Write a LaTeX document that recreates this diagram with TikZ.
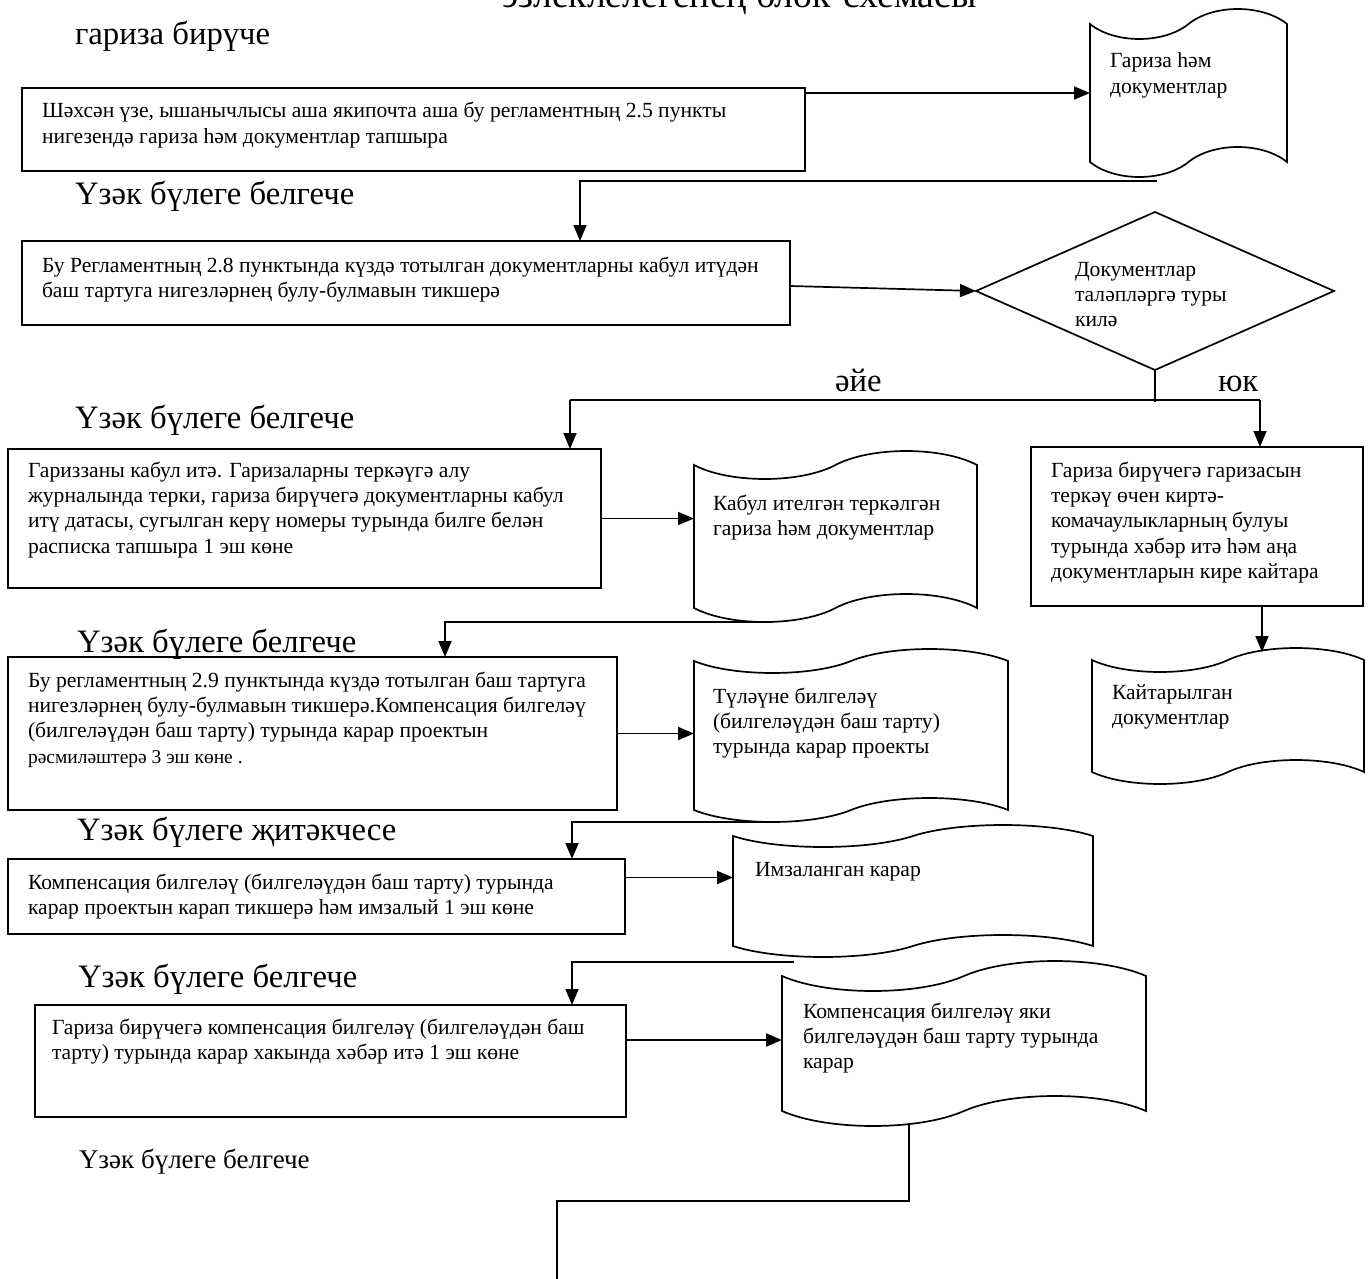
\documentclass[tikz,border=0pt]{standalone}
\usepackage{fontspec}
\setmainfont{Liberation Serif}
\usetikzlibrary{arrows.meta,shapes.geometric,calc}

% #1 name, #2 L, #3 R, #4 T, #5 B, #6 amplitude
\newcommand\tapedoc[6]{%
  \node[docarea, minimum width={(#3-#2)*1pt}, minimum height={(#5-#4)*1pt}] (#1) at ({0.5*(#2+#3)},{0.5*(#4+#5)}) {};
  \draw[docline] (#2,#4)
    .. controls ({#2+0.125*(#3-#2)},{#4+1.333*#6}) and ({#2+0.375*(#3-#2)},{#4+1.333*#6}) .. ({0.5*(#2+#3)},#4)
    .. controls ({#2+0.625*(#3-#2)},{#4-1.333*#6}) and ({#2+0.875*(#3-#2)},{#4-1.333*#6}) .. (#3,#4)
    -- (#3,#5)
    .. controls ({#2+0.875*(#3-#2)},{#5-1.333*#6}) and ({#2+0.625*(#3-#2)},{#5-1.333*#6}) .. ({0.5*(#2+#3)},#5)
    .. controls ({#2+0.375*(#3-#2)},{#5+1.333*#6}) and ({#2+0.125*(#3-#2)},{#5+1.333*#6}) .. (#2,#5)
    -- cycle;}
% #1 name, #2 L, #3 T, #4 R, #5 B
\newcommand\procbox[5]{%
  \node[box, minimum width={(#4-#2)*1pt}, minimum height={(#5-#3)*1pt}] (#1) at ({0.5*(#2+#4)},{0.5*(#3+#5)}) {};}

\tikzset{
  box/.style={draw, line width=1.7pt, inner sep=0pt, outer sep=0pt, rectangle},
  docarea/.style={inner sep=0pt, outer sep=0pt, rectangle},
  docline/.style={line width=1.7pt},
  % anchor = baseline of the LAST line
  txt/.style={inner sep=0pt, outer sep=0pt, align=left, anchor=base west, font=\fontsize{21.6}{25.4}\selectfont},
  head/.style={inner sep=0pt, outer sep=0pt, anchor=base west, font=\fontsize{32.7}{36}\selectfont},
  con/.style={line width=1.7pt},
  arr/.style={con, -{Triangle[length=16pt,width=13pt]}},
}

\begin{document}
\begin{tikzpicture}[x=1pt,y=-1pt]
\useasboundingbox (0,0) rectangle (1369,1279);
\fill[white] (0,0) rectangle (1369,1279);

% title (top cut off by the page edge, as in the reference)
\node[anchor=base west, inner sep=0pt, font=\fontsize{37.7}{42}\selectfont] (title) at (502,8) {эзлеклелегенең блок-схемасы};

% headings
\node[head] (h0) at (75,44.5) {гариза бирүче};
\node[head] (h1) at (75,204.5) {Үзәк бүлеге белгече};
\node[head] (h2) at (75,428.5) {Үзәк бүлеге белгече};
\node[head] (h3) at (77,652) {Үзәк бүлеге белгече};
\node[head] (h4) at (77,840) {Үзәк бүлеге җитәкчесе};
\node[head] (h5) at (78,987) {Үзәк бүлеге белгече};
\node[head, font=\fontsize{27}{30}\selectfont] (h6) at (79,1168) {Үзәк бүлеге белгече};

% process boxes
\procbox{a}{22}{88}{805}{171}
\procbox{b}{22}{241}{790}{325}
\procbox{c}{8}{449}{601}{588}
\procbox{e}{1031}{447}{1363}{606}
\procbox{f}{8}{657}{617}{810}
\procbox{g}{8}{859}{625}{934}
\procbox{h}{35}{1005}{626}{1117}

\node[txt] (at) at (42,143.4) {Шәхсән үзе, ышанычлысы аша якипочта аша бу регламентның 2.5 пункты\\нигезендә гариза һәм документлар тапшыра};
\node[txt] (bt) at (42,297.4) {Бу Регламентның 2.8 пунктында күздә тотылган документларны кабул итүдән\\баш тартуга нигезләрнең булу-булмавын тикшерә};
\node[txt] (ct) at (28,553.2) {Гариззаны кабул итә. Гаризаларны теркәүгә алу\\журналында терки, гариза бирүчегә документларны кабул\\итү датасы, сугылган керү номеры турында билге белән\\расписка тапшыра 1 эш көне};
\node[txt] (et) at (1051,578.6) {Гариза бирүчегә гаризасын\\теркәү өчен киртә-\\комачаулыкларның булуы\\турында хәбәр итә һәм аңа\\документларын кире кайтара};
\node[txt] (ft) at (28,763.2) {Бу регламентның 2.9 пунктында күздә тотылган баш тартуга\\нигезләрнең булу-булмавын тикшерә.Компенсация билгеләү\\(билгеләүдән баш тарту) турында карар проектын\\{\fontsize{19.5}{25.4}\selectfont рәсмиләштерә 3 эш көне .}};
\node[txt] (gt) at (28,914.4) {Компенсация билгеләү (билгеләүдән баш тарту) турында\\карар проектын карап тикшерә һәм имзалый 1 эш көне};
\node[txt] (ht) at (52,1059.4) {Гариза бирүчегә компенсация билгеләү (билгеләүдән баш\\тарту) турында карар хакында хәбәр итә 1 эш көне};

% documents
\tapedoc{d1}{1090}{1287}{24}{162}{15}
\tapedoc{d2}{694}{977}{465}{608}{14}
\tapedoc{d3}{1092}{1364}{660}{772}{12}
\tapedoc{d4}{694}{1008}{661}{810}{12}
\tapedoc{d5}{733}{1093}{836}{946}{11}
\tapedoc{d6}{782}{1146}{976}{1111}{15}

\node[txt] (d1t) at (1110,93.4) {Гариза һәм\\документлар};
\node[txt] (d2t) at (713,535.4) {Кабул ителгән теркәлгән\\гариза һәм документлар};
\node[txt] (d3t) at (1112,724.4) {Кайтарылган\\документлар};
\node[txt] (d4t) at (713,753.8) {Түләүне билгеләү\\(билгеләүдән баш тарту)\\турында карар проекты};
\node[txt] (d5t) at (755,876) {Имзаланган карар};
\node[txt] (d6t) at (803,1068.8) {Компенсация билгеләү яки\\билгеләүдән баш тарту турында\\карар};

% decision
\node[draw, diamond, line width=1.7pt, inner sep=0pt, outer sep=0pt, minimum width=358pt, minimum height=158pt] (dm) at (1155,291) {};
\node[txt] (dmt) at (1075,326.8) {Документлар\\таләпләргә туры\\килә};

% connectors
\draw[arr] ([yshift=-5pt]a.north east) -- (d1.west);
\coordinate (d1o) at (1157,181);
\draw[arr] (d1o) -| ([xshift=174pt]b.north);
\draw[arr] ([yshift=-3pt]b.east) -- (dm.west);

\draw[con] (dm.south) -- ++(0,32);
\coordinate (yes) at (570,400);
\coordinate (no) at (1260,400);
\draw[con] (yes) -- (no);
\draw[arr] (yes) -- (yes |- c.north);
\draw[arr] (no) -- (no |- e.north);
\node[head] (yl) at (835,391) {әйе};
\node[head] (nl) at (1218,391) {юк};

\draw[arr] (c.east) -- (c.east -| d2.west);
\coordinate (d2o) at (773,622);
\draw[arr] (d2o) -| ([xshift=132.5pt]f.north);

\path ([xshift=65pt]e.south) coordinate (es);
\draw[arr] (es) -- ([yshift=8pt]es |- d3.north);

\draw[arr] (f.east) -- (f.east -| d4.west);
\coordinate (d4o) at (780,822);
\draw[arr] (d4o) -| ([xshift=255.5pt]g.north);

\draw[arr] ([yshift=19pt]g.east) -- ([yshift=19pt]g.east -| d5.west);
\coordinate (d5o) at (794,962);
\draw[arr] (d5o) -| ([xshift=241.5pt]h.north);

\draw[arr] ([yshift=21pt]h.east) -- ([yshift=21pt]h.east -| d6.west);
\coordinate (d6o) at (909,1123);
\coordinate (bend) at (557,1201);
\coordinate (out) at (557,1285);
\draw[con] (d6o) |- (bend) -- (out);
\end{tikzpicture}
\end{document}
